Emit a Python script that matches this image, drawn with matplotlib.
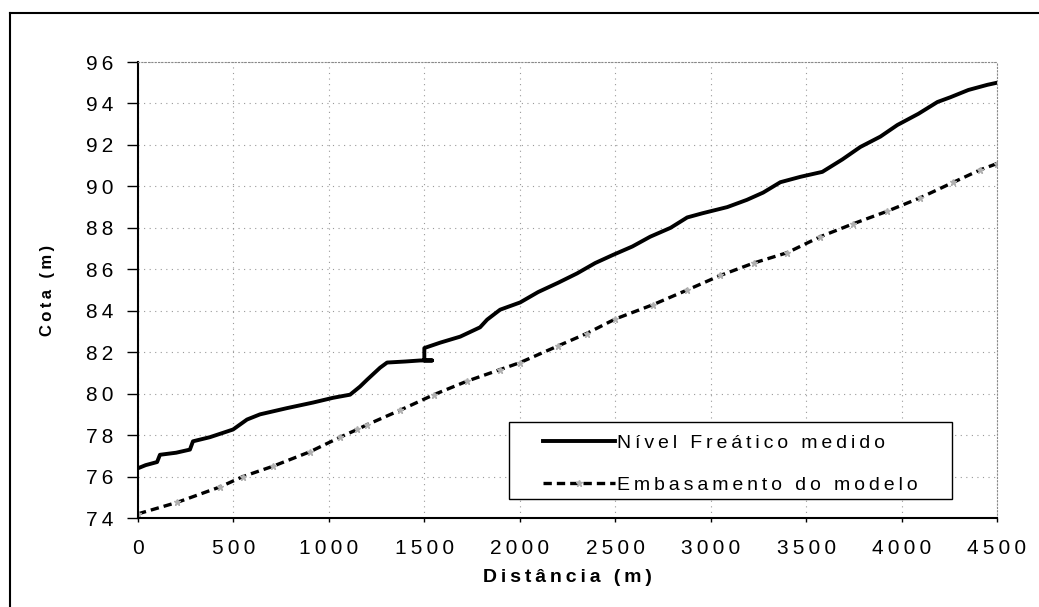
import numpy as np
import matplotlib
matplotlib.use('Agg')
import matplotlib.pyplot as plt
from matplotlib.lines import Line2D
from matplotlib.patches import Rectangle
from matplotlib.ticker import FuncFormatter

plt.rcParams['font.family'] = ['Liberation Sans', 'DejaVu Sans']

# measured water table along the section
dist_nivel = [0, 40, 80, 100, 115, 200, 272, 288, 377, 498, 571, 639, 780, 917,
              1022, 1111, 1163, 1200, 1268, 1305, 1400, 1478, 1541, 1500, 1500,
              1583, 1688, 1792, 1829, 1897, 2002, 2096, 2201, 2300, 2395, 2490,
              2590, 2683, 2790, 2877, 2956, 3087, 3190, 3275, 3365, 3470, 3585,
              3690, 3784, 3889, 3978, 4088, 4188, 4256, 4350, 4450, 4500]
cota_nivel = [76.4, 76.55, 76.65, 76.7, 77.05, 77.15, 77.3, 77.7, 77.9, 78.27,
              78.75, 79.0, 79.3, 79.57, 79.8, 79.95, 80.34, 80.67, 81.25, 81.5,
              81.55, 81.6, 81.6, 81.6, 82.2, 82.46, 82.75, 83.2, 83.57, 84.05,
              84.4, 84.9, 85.35, 85.8, 86.3, 86.7, 87.1, 87.57, 88.0, 88.5, 88.7,
              89.0, 89.35, 89.7, 90.2, 90.46, 90.7, 91.3, 91.9, 92.4, 92.96,
              93.5, 94.07, 94.3, 94.65, 94.9, 95.0]

# model basement
dist_embas = [0, 204, 430, 550, 708, 902, 1059, 1148, 1200, 1373, 1550, 1723,
              1897, 2002, 2200, 2350, 2500, 2700, 2877, 3050, 3225, 3401, 3574,
              3748, 3925, 4098, 4272, 4413, 4500]
cota_embas = [74.2, 74.75, 75.5, 76.0, 76.5, 77.2, 77.9, 78.27, 78.5, 79.2,
              79.95, 80.6, 81.16, 81.5, 82.3, 82.9, 83.6, 84.3, 85.0, 85.7,
              86.3, 86.8, 87.57, 88.2, 88.8, 89.45, 90.2, 90.8, 91.1]

xticks = np.arange(0, 4501, 500)
yticks = np.arange(74, 97, 2)


def spaced(text):
    # widen the letters a bit with thin spaces
    return '\u2009'.join(text)


fig = plt.figure(figsize=(10.39, 6.07), dpi=100)
ax = fig.add_axes([138 / 1039, 1 - 518 / 607, 859 / 1039, 456 / 607])

ax.plot(dist_nivel, cota_nivel, color='black', lw=2.8,
        label=spaced('Nível Freático medido'))
ax.plot(dist_embas, cota_embas, color='black', lw=2.4, linestyle=(0, (2.5, 1.5)),
        marker='*', markersize=5, markerfacecolor='#b0b0b0',
        markeredgecolor='#b0b0b0', label=spaced('Embasamento do modelo'))

ax.set_xlim(0, 4500)
ax.set_ylim(74, 96)
ax.set_xticks(xticks)
ax.set_yticks(yticks)
ax.xaxis.set_major_formatter(FuncFormatter(lambda v, p: spaced('%d' % v)))
ax.yaxis.set_major_formatter(FuncFormatter(lambda v, p: spaced('%d' % v)))
ax.grid(True, color='#999999', linestyle=(0, (1, 4)), lw=0.8)

ax.tick_params(axis='y', direction='out', length=8, width=1, pad=10, labelsize=15)
ax.tick_params(axis='x', direction='out', length=3, width=1, pad=12, labelsize=15)

for side in ['left', 'bottom']:
    ax.spines[side].set_linewidth(1.5)
    ax.spines[side].set_color('black')
for side in ['top', 'right']:
    ax.spines[side].set_color('#888888')
    ax.spines[side].set_linestyle((0, (1, 2)))
    ax.spines[side].set_linewidth(0.8)

ax.set_xlabel(spaced('Distância (m)'), fontsize=14, fontweight='bold', labelpad=8)
ax.set_ylabel(spaced('Cota (m)'), fontsize=12, fontweight='bold', labelpad=22)

# legend box is drawn separately so it can have wide side margins
ax.add_patch(Rectangle((0.432, 0.0417), 0.5156, 0.169, transform=ax.transAxes,
                       facecolor='white', edgecolor='black', lw=1.0, zorder=4))
leg = ax.legend(loc='upper left', bbox_to_anchor=(0.4715, 0.184), fontsize=14,
                frameon=False, handlelength=3.7, handletextpad=0.1,
                borderpad=0, labelspacing=1.25, borderaxespad=0)
leg.set_zorder(5)

# outer frame around the chart
fig.add_artist(Line2D([10 / 1039, 1], [1 - 13 / 607, 1 - 13 / 607],
                      transform=fig.transFigure, color='black', lw=1.5))
fig.add_artist(Line2D([10 / 1039, 10 / 1039], [0, 1 - 13 / 607],
                      transform=fig.transFigure, color='black', lw=1.5))

fig.savefig('out.png', dpi=100)
